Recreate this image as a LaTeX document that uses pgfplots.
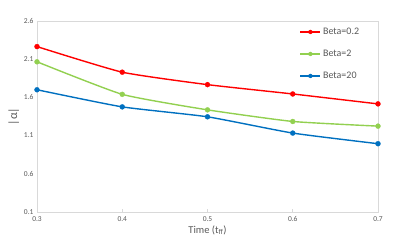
\documentclass[border=0pt]{standalone}
\usepackage{fontspec}
\setmainfont{Carlito}
\usepackage{pgfplots}
\pgfplotsset{compat=1.18}
\definecolor{cred}{RGB}{255,0,0}
\definecolor{cgreen}{RGB}{146,208,80}
\definecolor{cblue}{RGB}{0,112,192}
\definecolor{cgrid}{RGB}{217,217,217}
\definecolor{ctext}{RGB}{89,89,89}
\begin{document}
\begin{tikzpicture}
\begin{axis}[
  scale only axis,
  width=341pt, height=191pt,
  xmin=0.3, xmax=0.7, ymin=0.1, ymax=2.6,
  xtick={0.3,0.4,0.5,0.6,0.7},
  ytick={0.1,0.6,1.1,1.6,2.1,2.6},
  xticklabels={0.3,0.4,0.5,0.6,0.7},
  yticklabels={0.1,0.6,1.1,1.6,2.1,2.6},
  /pgf/number format/assume math mode=true,
  axis line style={cgrid, line width=0.8pt},
  xtick style={cgrid, line width=0.6pt},
  major tick length=2.5pt,
  ytick style={draw=none},
  tick align=inside,
  xtick pos=bottom,
  ticklabel style={font=\fontsize{7.5}{8}\selectfont, text=ctext},
  xticklabel style={yshift=-1pt},
  xlabel={Time (t\textsubscript{ff})},
  ylabel={|α|},
  xlabel style={font=\fontsize{10.5}{12}\selectfont, text=ctext, yshift=3pt},
  ylabel style={font=\fontsize{12}{13}\selectfont, text=ctext, yshift=-2pt},
  legend style={draw=none, fill=none, at={(0.77,0.975)}, anchor=north west,
    font=\fontsize{10}{11}\selectfont, text=ctext, row sep=10pt,
    legend cell align=left, inner sep=0pt},
  legend image code/.code={
    \draw[#1, mark size=2pt] (0cm,0cm) -- (0.7cm,0cm) plot coordinates {(0.35cm,0cm)};
  },
  every axis plot/.append style={line width=1.4pt, smooth, tension=0.3, mark=*, mark size=2.5pt, mark options={line width=0.3pt, solid}},
]
\addplot[cred] coordinates {
(0.3,2.265) (0.4,1.93) (0.5,1.767) (0.6,1.645) (0.7,1.515)};
\addlegendentry{Beta=0.2}
\addplot[cgreen] coordinates {
(0.3,2.066) (0.4,1.64) (0.5,1.437) (0.6,1.285) (0.7,1.224)};
\addlegendentry{Beta=2}
\addplot[cblue] coordinates {
(0.3,1.70) (0.4,1.476) (0.5,1.346) (0.6,1.133) (0.7,0.994)};
\addlegendentry{Beta=20}
\draw[cgrid, line width=0.8pt] (rel axis cs:0,1) -- (rel axis cs:1,1) -- (rel axis cs:1,0);
\end{axis}
\useasboundingbox (-37pt,-37pt) rectangle (370pt,212pt);
\end{tikzpicture}
\end{document}
